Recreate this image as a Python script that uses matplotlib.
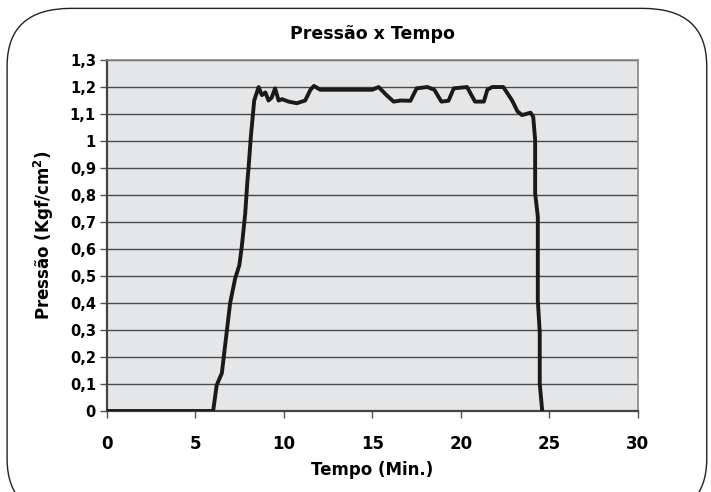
import matplotlib
matplotlib.use("Agg")
import matplotlib.pyplot as plt
from matplotlib.patches import FancyBboxPatch

tempo = [0, 1, 2, 3, 4, 5, 6.0, 6.2, 6.49, 6.96, 7.24, 7.48, 7.62, 7.81, 7.94, 8.0, 8.13, 8.32,
         8.57, 8.75, 8.95, 9.13, 9.3, 9.5, 9.7, 9.9, 10.26, 10.73, 11.2, 11.5, 11.7, 12.05,
         13.0, 14.0, 15.0, 15.35, 15.8, 16.2, 16.6, 17.15, 17.5, 18.1, 18.5, 18.9, 19.3, 19.6,
         20.35, 20.8, 21.3, 21.5, 21.77, 22.4, 22.9, 23.2, 23.46, 23.94, 24.09, 24.2, 24.2,
         24.2, 24.35, 24.35, 24.46, 24.46, 24.6]
pressao = [0, 0, 0, 0, 0, 0, 0, 0.096, 0.14, 0.40, 0.49, 0.54, 0.61, 0.73, 0.855, 0.9, 1.016, 1.15,
           1.20, 1.17, 1.18, 1.15, 1.16, 1.195, 1.15, 1.155, 1.146, 1.14, 1.15, 1.19, 1.204, 1.19,
           1.19, 1.19, 1.19, 1.20, 1.17, 1.146, 1.15, 1.149, 1.195, 1.20, 1.19, 1.146, 1.149, 1.195,
           1.20, 1.146, 1.146, 1.19, 1.20, 1.20, 1.15, 1.11, 1.096, 1.105, 1.09, 1.004,
           0.967, 0.806, 0.72, 0.41, 0.29, 0.10, 0]

x_ticks = [0, 5, 10, 15, 20, 25, 30]
y_ticks = [round(i * 0.1, 1) for i in range(14)]
y_labels = ["0", "0,1", "0,2", "0,3", "0,4", "0,5", "0,6", "0,7", "0,8", "0,9", "1", "1,1", "1,2", "1,3"]

plt.rcParams['font.family'] = ['DejaVu Sans']
fig = plt.figure(figsize=(7.11, 4.92), dpi=100)
fig.patch.set_facecolor("white")

border = FancyBboxPatch((0.010, -0.05), 0.984, 1.033, boxstyle="round,pad=0,rounding_size=0.09",
                        transform=fig.transFigure, facecolor="none", edgecolor="#222222",
                        linewidth=1.0, mutation_aspect=1.3)
fig.patches.append(border)

ax = fig.add_axes([0.1505, 0.1646, 0.7465, 0.7134])
ax.set_facecolor("#e5e6e8")
ax.set_xlim(0, 30)
ax.set_ylim(0, 1.3)
for y in y_ticks[1:]:
    ax.axhline(y, color="#4a4a4a", linewidth=1.0, zorder=1)
ax.plot(tempo, pressao, color="#1a1a1a", linewidth=2.8, zorder=3,
        solid_joinstyle="round", solid_capstyle="round")

ax.set_xticks(x_ticks)
ax.set_xticklabels([str(v) for v in x_ticks], fontsize=12, fontweight="bold")
ax.set_yticks(y_ticks)
ax.set_yticklabels(y_labels, fontsize=10.5, fontweight="bold")
ax.tick_params(axis="x", length=5, width=1, color="#555555", pad=12)
ax.tick_params(axis="y", length=5, width=1, color="#555555", pad=3)
for side in ["left", "bottom"]:
    ax.spines[side].set_color("#444444")
    ax.spines[side].set_linewidth(1.6)
for side in ["top", "right"]:
    ax.spines[side].set_color("#888888")
    ax.spines[side].set_linewidth(1.2)

ax.set_title("Pressão x Tempo", fontsize=12.5, fontweight="bold", pad=15)
ax.set_xlabel("Tempo (Min.)", fontsize=12, fontweight="bold", labelpad=6)
ax.set_ylabel("Pressão (Kgf/cm$^\\mathbf{2}$)", fontsize=12, fontweight="bold", labelpad=10)

fig.savefig("out.png", dpi=100)
